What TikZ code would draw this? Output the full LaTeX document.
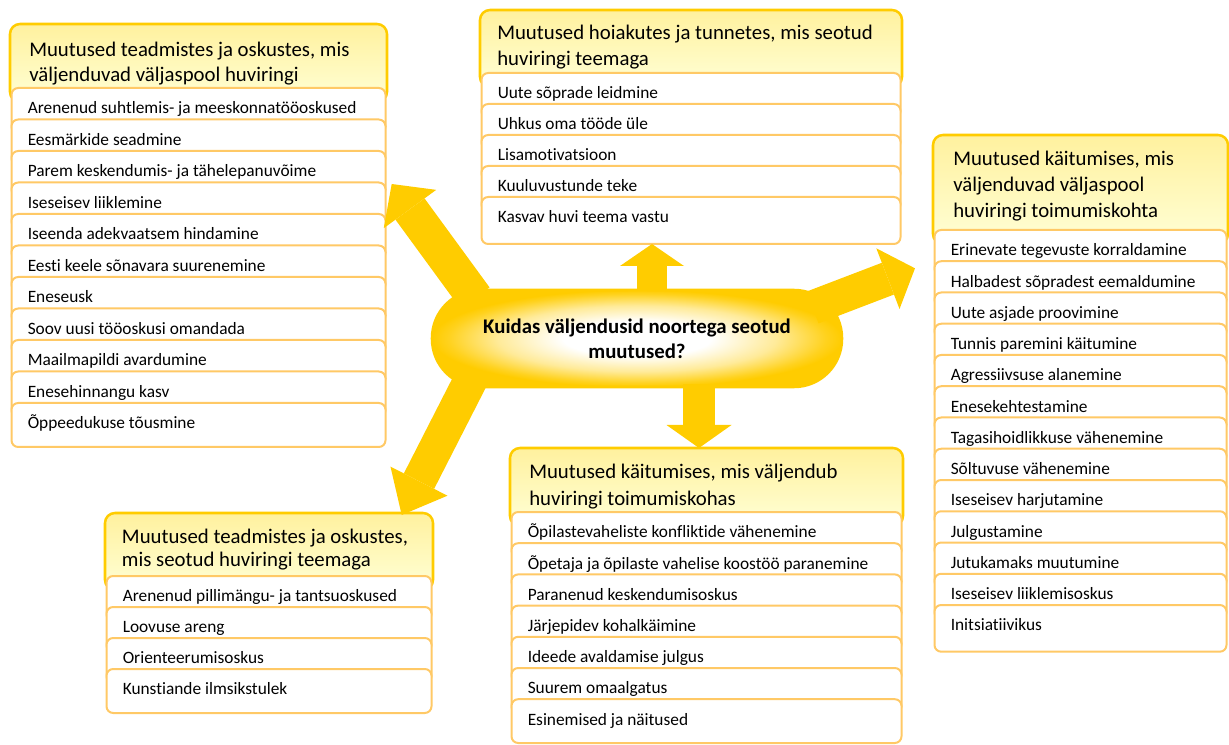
\documentclass[tikz,border=0pt]{standalone}
\usepackage{fontspec}
\setmainfont{Carlito}[Ligatures=NoCommon]
\usetikzlibrary{arrows.meta}
\definecolor{gold}{HTML}{FFCC00}
\definecolor{itemline}{HTML}{FFC966}
\definecolor{headtop}{HTML}{FFF19E}
\definecolor{headbot}{HTML}{FFFFD6}
\colorlet{stadmid}{gold!40!white}
\colorlet{stadrim}{gold!88!white}
\pgfdeclareradialshading{stad}{\pgfpoint{0bp}{0bp}}{color(0bp)=(white); color(9bp)=(white); color(17bp)=(stadmid); color(23bp)=(stadrim); color(25bp)=(gold); color(50bp)=(gold)}
\tikzset{
  headbox/.style={draw=gold, line width=1.9pt, rounded corners=7.5pt, top color=headtop, bottom color=headbot},
  itembox/.style={draw=itemline, line width=1.5pt, rounded corners=5pt, fill=white},
  itemtext/.style={anchor=base west, inner sep=0pt, font=\fontsize{13pt}{15pt}\selectfont},
  headtext/.style={anchor=base west, inner sep=0pt, font=\fontsize{15.6pt}{19pt}\selectfont},
  blockarrow/.style={draw=gold, line cap=butt},
}
\newcommand\listbox[9]{%
  \draw[headbox] (#2,#4) rectangle (#3,#5+14);
  \foreach \itm [count=\i] in {#9} {%
    \pgfmathsetmacro\yt{#5+(\i-1)*#6}%
    \pgfmathsetmacro\yb{\i==#7 ? #8 : \yt+#6+14}%
    \draw[itembox] (#2+1.5,\yt) rectangle (#3-1.5,\yb);
    \node[itemtext] (#1i\i) at (#2+17.5,\yt+25.8) {\itm};
  }%
}
\begin{document}
\begin{tikzpicture}[x=0.75pt,y=-0.75pt]
\useasboundingbox (0,0) rectangle (1229,745);

% Box 1 (top left)
\listbox{b1}{10}{387}{24}{88}{31.5}{11}{447}{Arenenud suhtlemis- ja meeskonnatööoskused, Eesmärkide seadmine, Parem keskendumis- ja tähelepanuvõime, Iseseisev liiklemine, Iseenda adekvaatsem hindamine, Eesti keele sõnavara suurenemine, Eneseusk, Soov uusi tööoskusi omandada, Maailmapildi avardumine, Enesehinnangu kasv, Õppeedukuse tõusmine}
\node[headtext] (b1h1) at (29,56.7) {Muutused teadmistes ja oskustes, mis};
\node[headtext] (b1h2) at (29,81.7) {väljenduvad väljaspool huviringi};

% Box 2 (top centre)
\listbox{b2}{480}{902}{10}{73}{31}{5}{244}{Uute sõprade leidmine, Uhkus oma tööde üle, Lisamotivatsioon, Kuuluvustunde teke, Kasvav huvi teema vastu}
\node[headtext] (b2h1) at (497,39.5) {Muutused hoiakutes ja tunnetes, mis seotud};
\node[headtext] (b2h2) at (497,65.5) {huviringi teemaga};

% Box 3 (right)
\listbox{b3}{933}{1228}{135}{230}{31.25}{13}{651.7}{Erinevate tegevuste korraldamine, Halbadest sõpradest eemaldumine, Uute asjade proovimine, Tunnis paremini käitumine, Agressiivsuse alanemine, Enesekehtestamine, Tagasihoidlikkuse vähenemine, Sõltuvuse vähenemine, Iseseisev harjutamine, Julgustamine, Jutukamaks muutumine, Iseseisev liiklemisoskus, Initsiatiivikus}
\node[headtext] (b3h1) at (953,166) {Muutused käitumises, mis};
\node[headtext] (b3h2) at (953,192) {väljenduvad väljaspool};
\node[headtext] (b3h3) at (953,218) {huviringi toimumiskohta};

% Box 4 (bottom left)
\listbox{b4}{105}{433}{513}{576}{31}{4}{713}{Arenenud pillimängu- ja tantsuoskused, Loovuse areng, Orienteerumisoskus, Kunstiande ilmsikstulek}
\node[headtext] (b4h1) at (121.7,543.3) {Muutused teadmistes ja oskustes,};
\node[headtext] (b4h2) at (121.7,566.7) {mis seotud huviringi teemaga};

% Box 5 (bottom centre)
\listbox{b5}{510}{903}{448}{512}{31.2}{7}{743}{Õpilastevaheliste konfliktide vähenemine, Õpetaja ja õpilaste vahelise koostöö paranemine, Paranenud keskendumisoskus, Järjepidev kohalkäimine, Ideede avaldamise julgus, Suurem omaalgatus, Esinemised ja näitused}
\node[headtext] (b5h1) at (529,478.3) {Muutused käitumises, mis väljendub};
\node[headtext] (b5h2) at (529,505) {huviringi toimumiskohas};

% Centre
\node[draw=gold, line width=1.9pt, rounded corners=36pt, minimum width=307.5pt, minimum height=72.75pt,
      shade, shading=stad, align=center, inner sep=0pt,
      font=\bfseries\fontsize{15.6pt}{18.75pt}\selectfont] (c) at (637,338.5)
      {Kuidas väljendusid noortega seotud\\muutused?};

% Arrows
\coordinate (uS) at (652,290);   \coordinate (uE) at (652,244);
\coordinate (dS) at (699,384);   \coordinate (dE) at (699,448);
\coordinate (ulS) at (475,298);  \coordinate (ulE) at (391.7,184);
\coordinate (dlS) at (472.5,376.3); \coordinate (dlE) at (401.7,515);
\coordinate (rS) at (812.5,307.5);  \coordinate (rE) at (915,268.3);

\draw[blockarrow, line width=22.5pt, -{Triangle[length=16.5pt,width=48pt,line width=0pt]}] (uS) -- (uE);
\draw[blockarrow, line width=24pt, -{Triangle[length=17.25pt,width=48.75pt,line width=0pt]}] (dS) -- (dE);
\draw[blockarrow, line width=27pt, -{Triangle[length=23.25pt,width=48.75pt,line width=0pt]}] (ulS) -- (ulE);
\draw[blockarrow, line width=25.5pt, -{Triangle[length=28.5pt,width=48pt,line width=0pt]}] (dlS) -- (dlE);
\draw[blockarrow, line width=25.5pt, -{Triangle[length=21.75pt,width=48.75pt,line width=0pt]}] (rS) -- (rE);
\end{tikzpicture}
\end{document}
